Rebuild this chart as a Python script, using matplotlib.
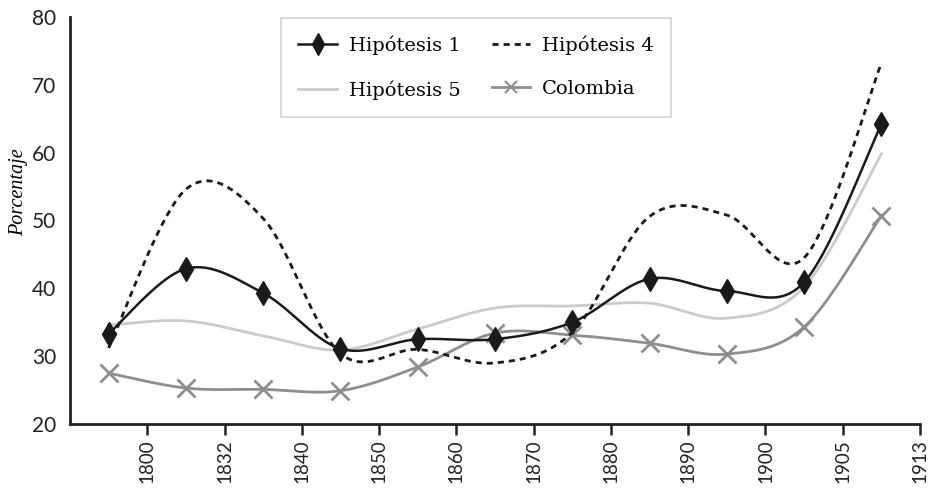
import matplotlib.pyplot as plt
import numpy as np

# tick labels (right edge of each category slot)
years = ["1800", "1832", "1840", "1850", "1860", "1870", "1880", "1890", "1900", "1905", "1913"]

hip1 = [33.3, 42.9, 39.3, 31.1, 32.5, 32.5, 35.0, 41.4, 39.6, 40.9, 64.2]
hip4 = [31.2, 54.6, 50.3, 30.4, 31.0, 29.0, 33.5, 50.6, 50.8, 44.5, 73.2]
hip5 = [34.6, 35.2, 33.0, 30.9, 34.0, 37.1, 37.4, 37.8, 35.6, 40.2, 59.8]
colombia = [27.5, 25.3, 25.1, 24.9, 28.4, 33.4, 33.1, 31.9, 30.3, 34.3, 50.7]


def smooth(xs, ys, n=40):
    # bezier smoothing like a spreadsheet "smoothed line"
    p = np.column_stack([xs, ys]).astype(float)
    p = np.vstack([p[0], p, p[-1]])
    out = []
    for i in range(1, len(p) - 2):
        p0, p1, p2, p3 = p[i - 1], p[i], p[i + 1], p[i + 2]
        c1 = p1 + (p2 - p0) / 6
        c2 = p2 - (p3 - p1) / 6
        t = np.linspace(0, 1, n)[:, None]
        seg = (1 - t) ** 3 * p1 + 3 * (1 - t) ** 2 * t * c1 + 3 * (1 - t) * t ** 2 * c2 + t ** 3 * p2
        out.append(seg)
    out = np.vstack(out)
    return out[:, 0], out[:, 1]


fig = plt.figure(figsize=(9.32, 4.88), dpi=100)
ax = fig.add_axes([70 / 932, 1 - 424 / 488, 850 / 932, 407 / 488])

x = np.arange(len(years)) + 0.5

sx, sy = smooth(x, hip5)
ax.plot(sx, sy, color="#cbcbcb", lw=2.0, zorder=2)
l5, = ax.plot([], [], color="#cbcbcb", lw=2.0)

sx, sy = smooth(x, colombia)
ax.plot(sx, sy, color="#8e8e8e", lw=2.0, zorder=3)
ax.plot(x, colombia, ls="none", marker="x", ms=13, mew=2, color="#8e8e8e", zorder=3)
lc, = ax.plot([], [], color="#8e8e8e", lw=2.0, marker="x", ms=8, mew=1.5)

sx, sy = smooth(x, hip4)
ax.plot(sx, sy, color="#1a1a1a", lw=2.0, ls=(0, (2.2, 1.8)), zorder=4)
l4, = ax.plot([], [], color="#1a1a1a", lw=2.0, ls=(0, (2.2, 1.8)))

sx, sy = smooth(x, hip1)
ax.plot(sx, sy, color="#1a1a1a", lw=1.8, zorder=5)
ax.plot(x, hip1, ls="none", marker="d", ms=12.5, color="#1a1a1a", zorder=5)
l1, = ax.plot([], [], color="#1a1a1a", lw=1.8, marker="d", ms=11)

ax.set_xlim(0, len(years))
ax.set_ylim(20, 80)
ax.set_xticks(np.arange(1, len(years) + 1))
ax.set_xticklabels(years, rotation=90, fontsize=13.5, family="Lato", color="#222222")
ax.set_yticks(np.arange(20, 81, 10))
ax.set_yticklabels([str(v) for v in range(20, 81, 10)], fontsize=15, family="Lato", color="#222222")
ax.tick_params(axis="x", direction="out", length=8, width=1.8, color="#222222", pad=3)
ax.tick_params(axis="y", length=0, pad=10)

for s in ["top", "right"]:
    ax.spines[s].set_visible(False)
for s in ["left", "bottom"]:
    ax.spines[s].set_linewidth(2)
    ax.spines[s].set_color("#222222")

ax.set_ylabel("Porcentaje", family="Liberation Serif", style="italic", fontsize=14.5)
ax.yaxis.set_label_coords(-0.049, 0.57)

leg = fig.legend([l1, l5, l4, lc], ["Hipótesis 1", "Hipótesis 5", "Hipótesis 4", "Colombia"],
                 ncol=2, loc="upper center", bbox_to_anchor=(476 / 932, 1 - 18 / 488),
                 prop={"family": "DejaVu Serif", "size": 14}, fancybox=False,
                 edgecolor="#c8c8c8", handlelength=2.0, handletextpad=0.6,
                 columnspacing=1.6, borderpad=0.9, labelspacing=1.3, borderaxespad=0)
leg.get_frame().set_linewidth(1.2)

fig.savefig("out.png", dpi=100)
